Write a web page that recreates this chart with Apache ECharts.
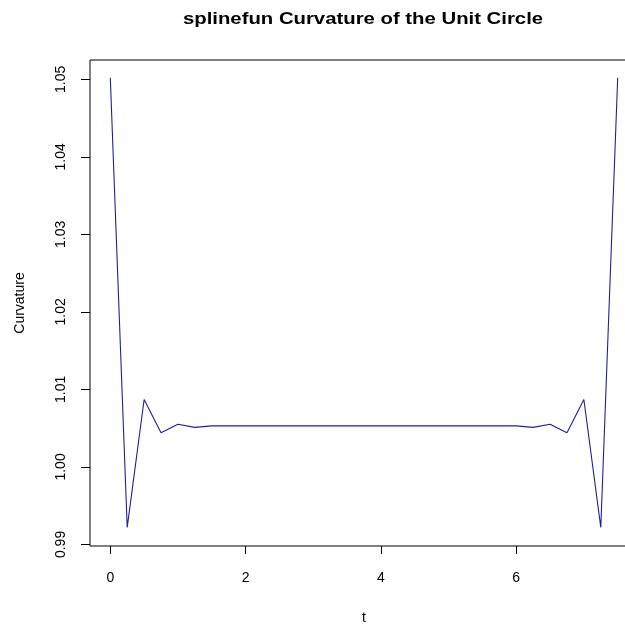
<!DOCTYPE html>
<html>
<head>
<meta charset="utf-8">
<script src="https://cdn.jsdelivr.net/npm/echarts@6/dist/echarts.min.js"></script>
<style>
  html, body { margin: 0; padding: 0; background: #fff; }
  #chart { width: 625px; height: 627px; }
</style>
</head>
<body>
<div id="chart"></div>
<script>
// Parameter values t
const tValues = [0, 0.25, 0.5, 0.75, 1.0, 1.25, 1.5, 1.75, 2.0, 2.25, 2.5, 2.75, 3.0, 3.25, 3.5, 3.75,
  4.0, 4.25, 4.5, 4.75, 5.0, 5.25, 5.5, 5.75, 6.0, 6.25, 6.5, 6.75, 7.0, 7.25, 7.5];
// Curvature values
const curvature = [1.0502, 0.9922, 1.0087, 1.0044, 1.0055, 1.0051, 1.0053, 1.0053, 1.0053, 1.0053,
  1.0053, 1.0053, 1.0053, 1.0053, 1.0053, 1.0053, 1.0053, 1.0053, 1.0053, 1.0053, 1.0053, 1.0053,
  1.0053, 1.0053, 1.0053, 1.0051, 1.0055, 1.0044, 1.0087, 0.9922, 1.0502];
// Tick values
const xTicks = [0, 2, 4, 6];
const yTicks = [0.99, 1.00, 1.01, 1.02, 1.03, 1.04, 1.05];
const titleText = 'splinefun Curvature of the Unit Circle';

const FONT = '"Liberation Sans", Arial, sans-serif';
const chart = echarts.init(document.getElementById('chart'), null, { renderer: 'canvas' });

const seriesData = tValues.map((t, i) => [t, curvature[i]]);

chart.setOption({
  backgroundColor: '#ffffff',
  animation: false,
  graphic: [{
    type: 'text',
    x: 363, y: 20,
    scaleX: 1.27,
    style: {
      text: titleText,
      font: 'bold 16px ' + FONT,
      fill: '#000',
      textAlign: 'center',
      textVerticalAlign: 'middle'
    }
  }],
  grid: {
    left: 90, top: 60, width: 548, height: 486,
    show: true, borderColor: '#000', borderWidth: 1, backgroundColor: 'transparent',
    containLabel: false,
    outerBoundsMode: 'none'
  },
  xAxis: {
    type: 'value', min: -0.3, max: 7.8,
    name: 't', nameLocation: 'middle', nameGap: 65,
    nameTextStyle: { fontFamily: FONT, fontSize: 14, color: '#000' },
    axisLine: { show: false, onZero: false },
    axisTick: { show: true, inside: false, length: 8, customValues: xTicks, lineStyle: { color: '#000' } },
    axisLabel: { customValues: xTicks, margin: 25, fontFamily: FONT, fontSize: 14, color: '#000',
      formatter: v => String(v) },
    splitLine: { show: false }
  },
  yAxis: {
    type: 'value', min: 0.9898, max: 1.0525,
    name: 'Curvature', nameLocation: 'middle', nameGap: 63, nameRotate: 90,
    nameTextStyle: { fontFamily: FONT, fontSize: 14, color: '#000' },
    axisLine: { show: false, onZero: false },
    axisTick: { show: true, inside: false, length: 9, customValues: yTicks, lineStyle: { color: '#000' } },
    axisLabel: { customValues: yTicks, rotate: 90, margin: 22, fontFamily: FONT, fontSize: 14, color: '#000',
      formatter: v => v.toFixed(2) },
    splitLine: { show: false }
  },
  series: [{
    type: 'line',
    data: seriesData,
    showSymbol: false,
    smooth: false,
    lineStyle: { color: '#1f1f9a', width: 1.1 },
    clip: true
  }]
});
</script>
</body>
</html>
